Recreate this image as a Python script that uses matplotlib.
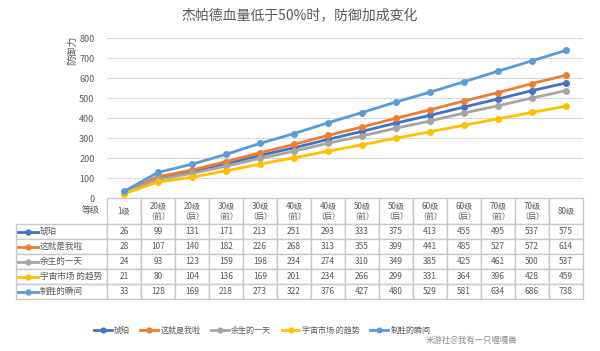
import matplotlib.pyplot as plt
from matplotlib.table import Table
from matplotlib.lines import Line2D

plt.rcParams['font.family'] = ['Noto Sans CJK SC', 'DejaVu Sans']

# ===================== Dados =====================
niveis = ['1级', '20级\n（前）', '20级\n（后）', '30级\n（前）', '30级\n（后）',
          '40级\n（前）', '40级\n（后）', '50级\n（前）', '50级\n（后）',
          '60级\n（前）', '60级\n（后）', '70级\n（前）', '70级\n（后）', '80级']
nomes = ['琥珀', '这就是我啦', '余生的一天', '宇宙市场 的趋势', '制胜的瞬间']
hupo = [26, 99, 131, 171, 213, 251, 293, 333, 375, 413, 455, 495, 537, 575]
zhe_jiu_shi = [28, 107, 140, 182, 226, 268, 313, 355, 399, 441, 485, 527, 572, 614]
yu_sheng = [24, 93, 123, 159, 198, 234, 274, 310, 349, 385, 425, 461, 500, 537]
yu_zhou = [21, 80, 104, 136, 169, 201, 234, 266, 299, 331, 364, 396, 428, 459]
zhi_sheng = [33, 128, 169, 218, 273, 322, 376, 427, 480, 529, 581, 634, 686, 738]
cores = ['#4472C4', '#ED7D31', '#A5A5A5', '#FFC000', '#5B9BD5']

series = [hupo, zhe_jiu_shi, yu_sheng, yu_zhou, zhi_sheng]
cinza = '#595959'

fig = plt.figure(figsize=(6, 3.51), dpi=100)
AX_W, AX_H = 476, 160   # tamanho dos eixos em pixels
ax = fig.add_axes([107 / 600, 1 - 198 / 351, AX_W / 600, AX_H / 351])

x = list(range(len(niveis)))
for s, nome, cor in zip(series, nomes, cores):
    ax.plot(x, s, color=cor, lw=2, marker='o', ms=4, label=nome)

ax.set_xlim(-0.5, len(niveis) - 0.5)
ax.set_ylim(0, 800)
ax.set_yticks(range(0, 801, 100))
ax.set_xticks([])
ax.tick_params(axis='y', length=0, labelsize=6.5, labelcolor=cinza, pad=9)
ax.grid(axis='y', color='#D9D9D9', lw=0.8)
ax.set_axisbelow(True)
for sp in ax.spines.values():
    sp.set_visible(False)

ax.text((72 - 107) / AX_W, (198 - 50) / AX_H, '防御力', transform=ax.transAxes,
        rotation=90, ha='center', va='center', fontsize=7, color=cinza)

fig.text(0.5, 1 - 16 / 351, '杰帕德血量低于50%时，防御加成变化', ha='center', va='center',
         fontsize=10, color=cinza)

# ---- tabela de dados ----
borda = '#C8C8C8'
w_lab, w_col = 91 / AX_W, 1 / len(niveis)
h_head, h_row = 26 / AX_H, 15 / AX_H
tb = Table(ax, loc='bottom')

c = tb.add_cell(0, -1, w_lab, h_head, text='等级', loc='right')
c.visible_edges = ''
c.PAD = 7 / 91
c.get_text().set_fontsize(6.5)
c.get_text().set_color(cinza)
for j, nv in enumerate(niveis):
    c = tb.add_cell(0, j, w_col, h_head, text=nv, loc='center', edgecolor=borda)
    c.get_text().set_fontsize(5.8)
    c.get_text().set_color(cinza)
    c.get_text().set_linespacing(1.4)
for i, (s, nome) in enumerate(zip(series, nomes)):
    c = tb.add_cell(i + 1, -1, w_lab, h_row, text=nome, loc='left', edgecolor=borda)
    c.PAD = 24 / 91
    c.get_text().set_fontsize(6.2)
    c.get_text().set_color(cinza)
    for j, v in enumerate(s):
        c = tb.add_cell(i + 1, j, w_col, h_row, text=str(v), loc='center', edgecolor=borda)
        c.get_text().set_fontsize(6)
        c.get_text().set_color(cinza)
tb.auto_set_font_size(False)
ax.add_table(tb)

# marcadores de legenda nas linhas da tabela
for i, cor in enumerate(cores):
    yc = -(26 + 15 * i + 7.5) / AX_H
    ax.add_line(Line2D([-89 / AX_W, -69 / AX_W], [yc, yc], transform=ax.transAxes,
                       color=cor, lw=2, clip_on=False))
    ax.plot([-79 / AX_W], [yc], transform=ax.transAxes, marker='o', ms=3.5,
            color=cor, clip_on=False)

leg = fig.legend(loc='center', bbox_to_anchor=(262 / 600, 1 - 330 / 351), ncol=5,
                 frameon=False, fontsize=5.8, handlelength=2.2, columnspacing=1.3,
                 handletextpad=0.3, markerscale=0.85)
for t in leg.get_texts():
    t.set_color(cinza)

fig.text(517 / 600, 1 - 340 / 351, '米游社@我有一只喔嘎兽', ha='right', va='center',
         fontsize=6, color='#8C8C8C')

plt.savefig('out.png', dpi=100)
